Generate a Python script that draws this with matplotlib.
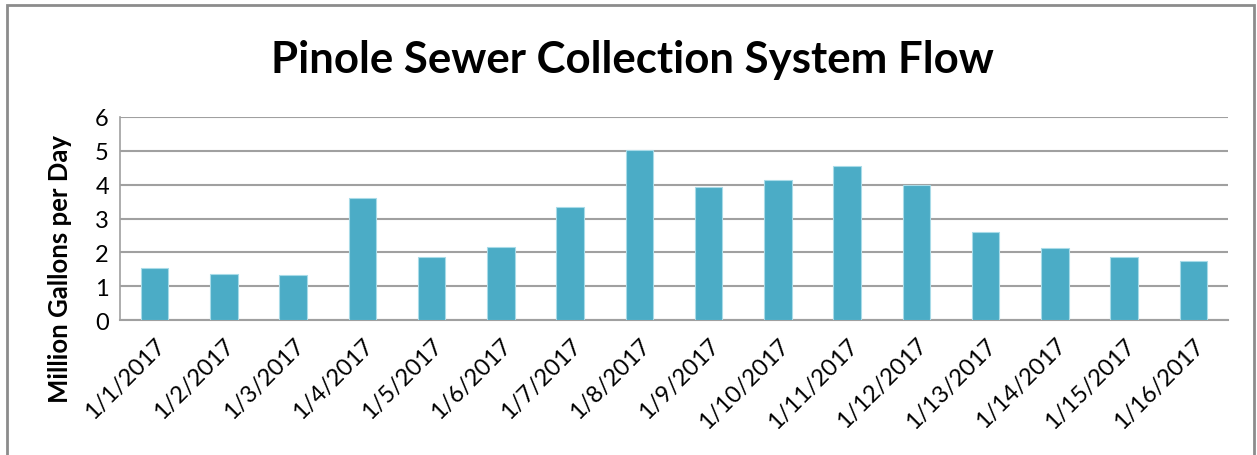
import matplotlib
matplotlib.use("Agg")
import matplotlib.pyplot as plt
from matplotlib.patches import Rectangle

dates = ["1/1/2017", "1/2/2017", "1/3/2017", "1/4/2017", "1/5/2017", "1/6/2017",
         "1/7/2017", "1/8/2017", "1/9/2017", "1/10/2017", "1/11/2017", "1/12/2017",
         "1/13/2017", "1/14/2017", "1/15/2017", "1/16/2017"]
flow = [1.54, 1.37, 1.33, 3.60, 1.86, 2.16, 3.33, 5.02, 3.93, 4.13, 4.54, 3.98,
        2.61, 2.12, 1.86, 1.74]
yticks = [0, 1, 2, 3, 4, 5, 6]

W, H = 1257, 456
fig = plt.figure(figsize=(W / 100, H / 100), dpi=100)
plt.rcParams['font.family'] = ['Lato', 'DejaVu Sans']

# outer chart border
fig.patches.append(Rectangle((7 / W, -0.1), (1254 - 7) / W, (H - 6) / H + 0.1,
                             transform=fig.transFigure, fill=False,
                             edgecolor='#8c8c8c', linewidth=2))

left, right, top, bottom = 120, 1228, 118, 321
ax = fig.add_axes([left / W, 1 - bottom / H, (right - left) / W, (bottom - top) / H])

x = range(len(dates))
ax.bar(x, flow, width=0.4, color='#4BACC6', edgecolor='#a8dbe8', linewidth=0.8, zorder=3)
ax.set_xlim(-0.5, len(dates) - 0.5)
ax.set_ylim(0, 6)
ax.set_yticks(yticks)
ax.set_yticklabels([str(v) for v in yticks], fontsize=17)
ax.set_xticks(list(x))
ax.set_xticklabels(dates, rotation=45, ha='right', rotation_mode='anchor', fontsize=17)
ax.tick_params(axis='y', length=0, pad=8)
ax.tick_params(axis='x', length=0, pad=10)
ax.grid(axis='y', color='#a0a0a0', linewidth=1.5, zorder=0)
for s in ['top', 'right']:
    ax.spines[s].set_visible(False)
ax.spines['left'].set_color('#a0a0a0')
ax.spines['bottom'].set_color('#a0a0a0')
ax.spines['left'].set_linewidth(1.2)
ax.spines['bottom'].set_linewidth(1.5)
ax.set_ylabel("Million Gallons per Day", fontsize=18.5, fontweight='bold', va='center')
ax.yaxis.set_label_coords((60 - left) / (right - left), (bottom - 269) / (bottom - top))

fig.text(632 / W, 1 - 60 / H, "Pinole Sewer Collection System Flow", ha='center', va='center',
         fontsize=31.5, fontweight='bold')

fig.savefig("out.png", dpi=100, facecolor='white')
